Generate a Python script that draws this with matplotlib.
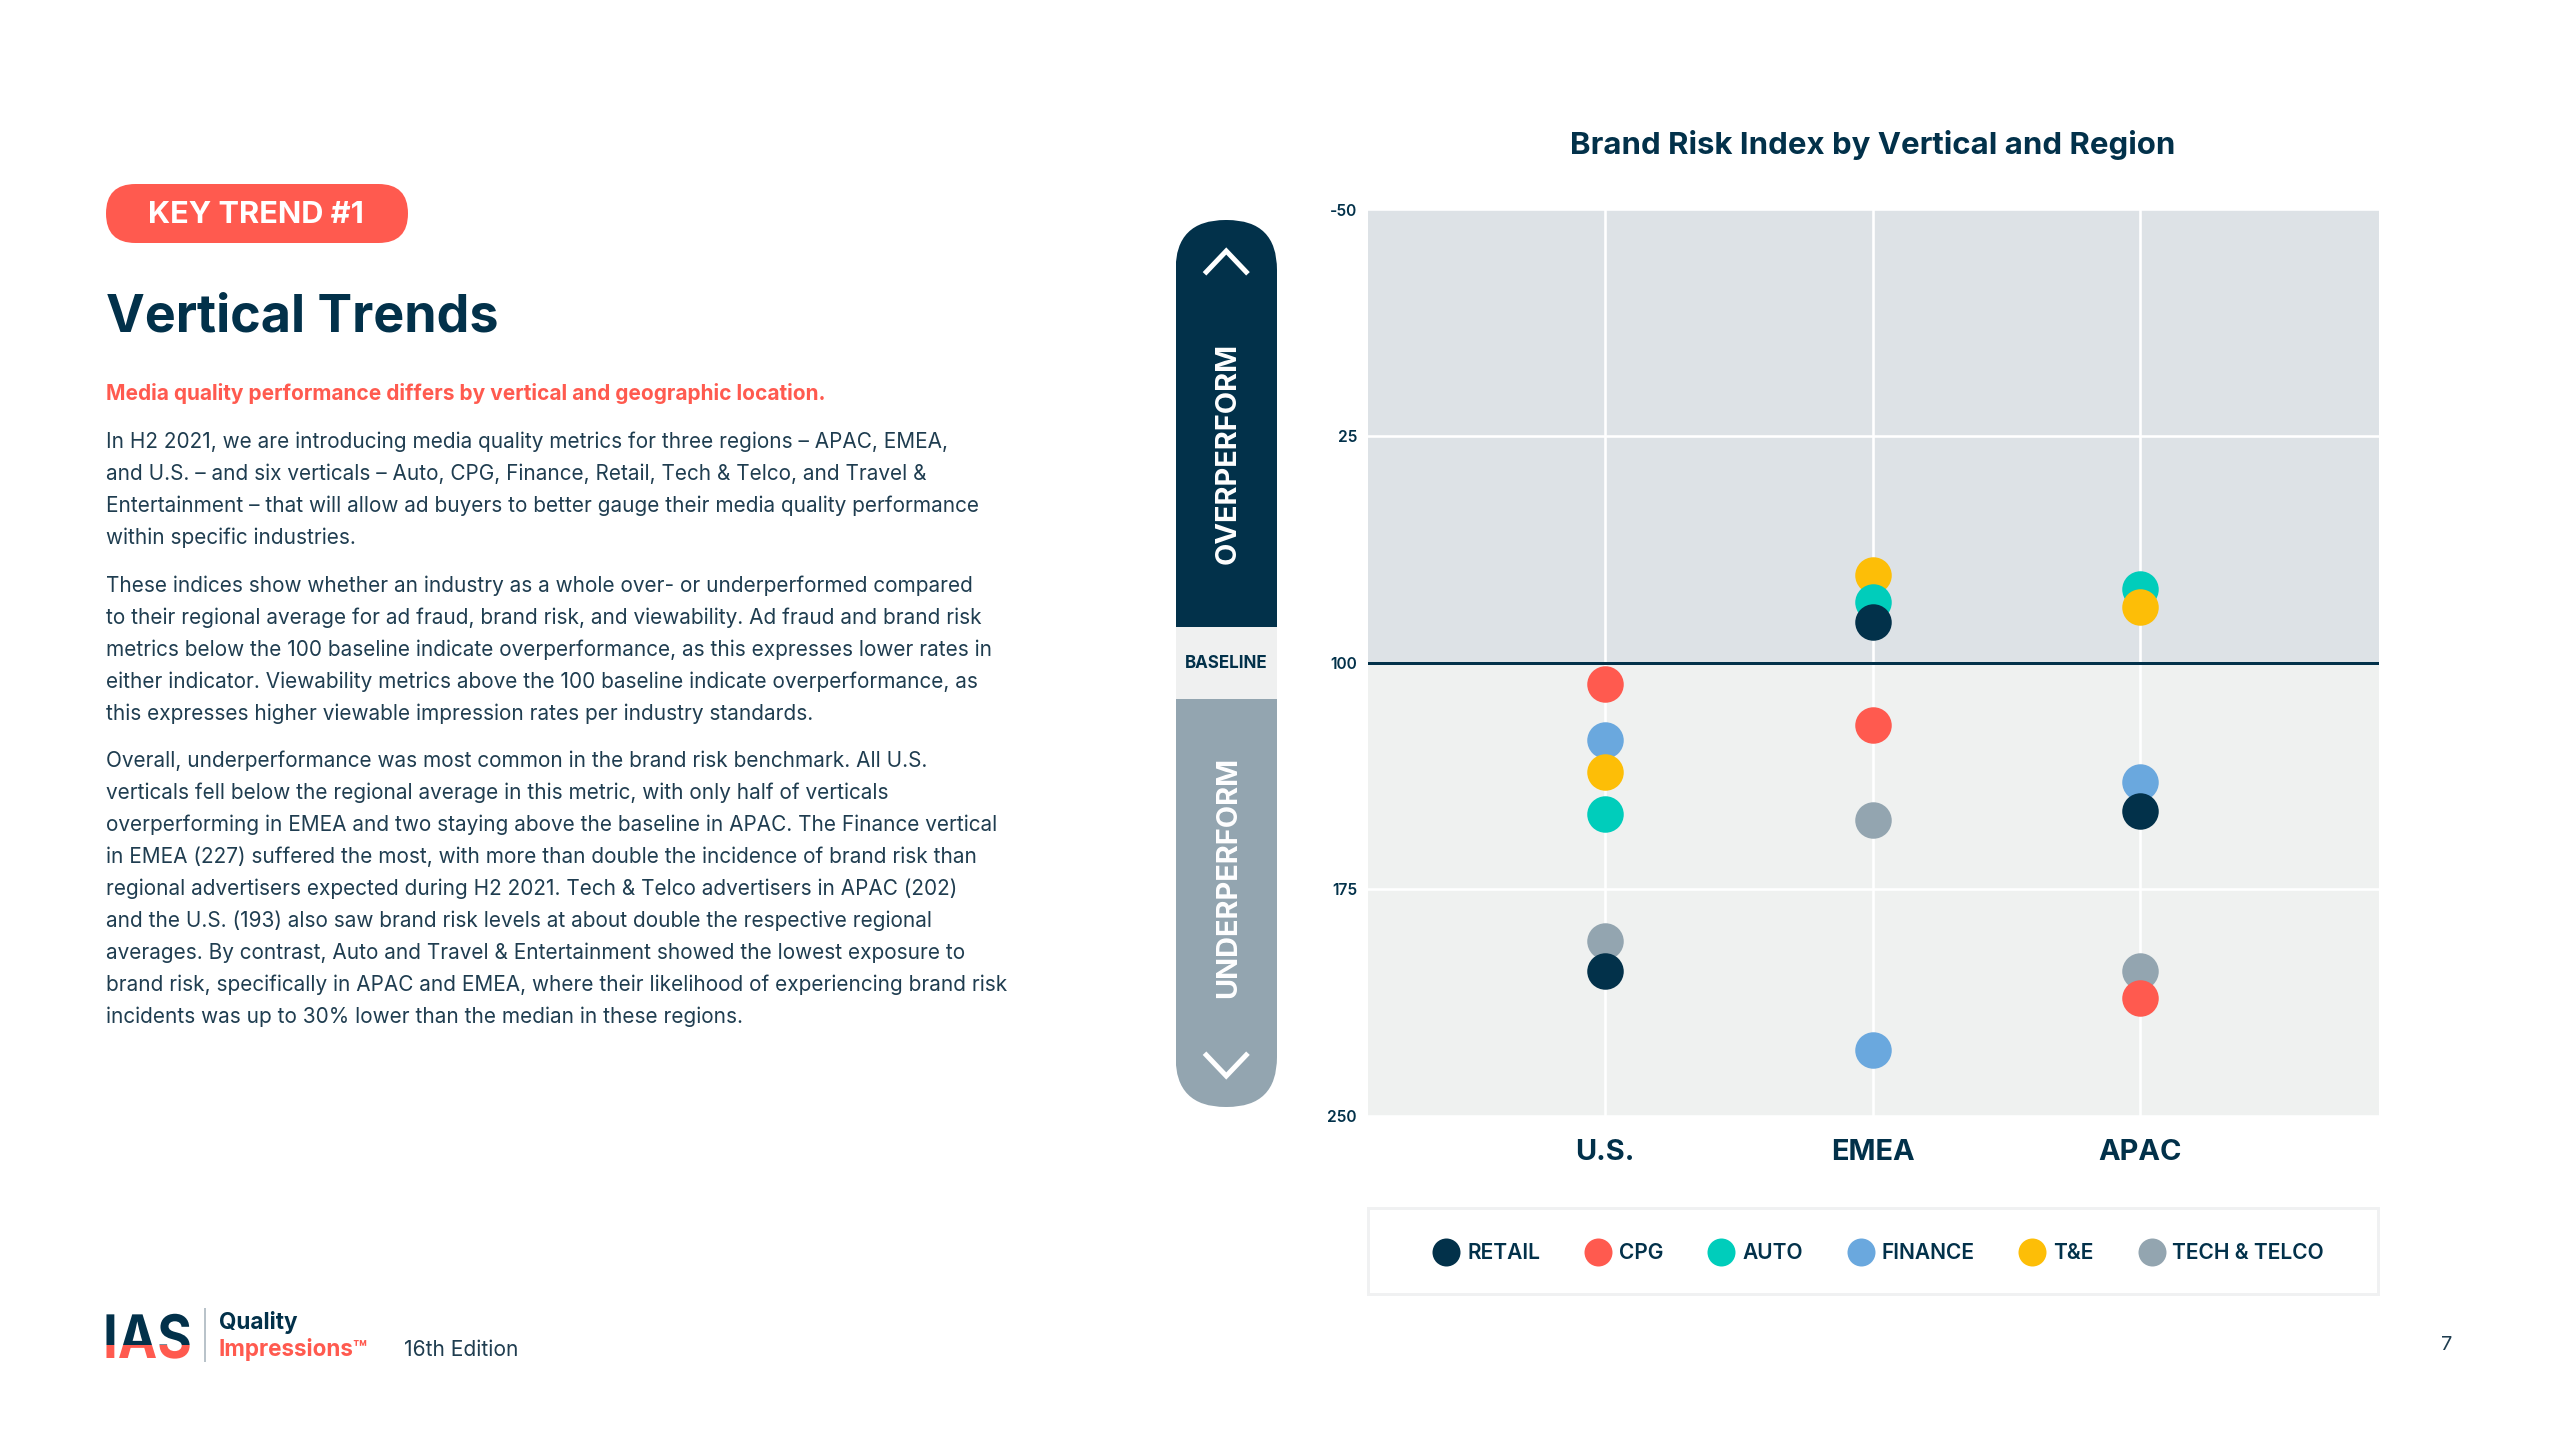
import matplotlib
matplotlib.use("Agg")
import matplotlib.pyplot as plt
from matplotlib.patches import FancyBboxPatch, Rectangle
from matplotlib.lines import Line2D
from matplotlib.patheffects import AbstractPathEffect
from matplotlib.transforms import Affine2D, Bbox

plt.rcParams['font.family'] = ['Inter', 'DejaVu Sans']

# ---------- data ----------
regions = ['U.S.', 'EMEA', 'APAC']
verticals = ['RETAIL', 'CPG', 'AUTO', 'FINANCE', 'T&E', 'TECH & TELCO']
retail = [202, 86.5, 149]
cpg = [107, 120.5, 211]
auto = [150, 80, 75.5]
finance = [125.5, 228, 139.5]
te = [136, 71, 81.5]
tech = [192, 152, 202]
series_values = [retail, cpg, auto, finance, te, tech]
y_ticks = [-50, 25, 100, 175, 250]
y_tick_labels = ['-50', '25', '100', '175', '250']
baseline = 100

colors = ['#02314A', '#FF5A4F', '#00CDBB', '#6AA8DE', '#FDBE07', '#93A5B0']
# paint order of the verticals (back to front) inside each region
paint_order = {
    'U.S.': ['AUTO', 'FINANCE', 'T&E', 'CPG', 'TECH & TELCO', 'RETAIL'],
    'EMEA': ['T&E', 'AUTO', 'RETAIL', 'CPG', 'TECH & TELCO', 'FINANCE'],
    'APAC': ['AUTO', 'T&E', 'FINANCE', 'RETAIL', 'TECH & TELCO', 'CPG'],
}

heading = 'Vertical Trends'
pill_text = 'KEY TREND #1'
lead = 'Media quality performance differs by vertical and geographic location.'
para1 = ['In H2 2021, we are introducing media quality metrics for three regions – APAC, EMEA,',
         'and U.S. – and six verticals – Auto, CPG, Finance, Retail, Tech & Telco, and Travel &',
         'Entertainment – that will allow ad buyers to better gauge their media quality performance',
         'within specific industries.']
para2 = ['These indices show whether an industry as a whole over- or underperformed compared',
         'to their regional average for ad fraud, brand risk, and viewability. Ad fraud and brand risk',
         'metrics below the 100 baseline indicate overperformance, as this expresses lower rates in',
         'either indicator. Viewability metrics above the 100 baseline indicate overperformance, as',
         'this expresses higher viewable impression rates per industry standards.']
para3 = ['Overall, underperformance was most common in the brand risk benchmark. All U.S.',
         'verticals fell below the regional average in this metric, with only half of verticals',
         'overperforming in EMEA and two staying above the baseline in APAC. The Finance vertical',
         'in EMEA (227) suffered the most, with more than double the incidence of brand risk than',
         'regional advertisers expected during H2 2021. Tech & Telco advertisers in APAC (202)',
         'and the U.S. (193) also saw brand risk levels at about double the respective regional',
         'averages. By contrast, Auto and Travel & Entertainment showed the lowest exposure to',
         'brand risk, specifically in APAC and EMEA, where their likelihood of experiencing brand risk',
         'incidents was up to 30% lower than the median in these regions.']

NAVY = '#02314A'
CORAL = '#FF5A4F'
BODY = '#1F3D50'
W, H = 2560, 1440
DPI = 200
fig = plt.figure(figsize=(W / DPI, H / DPI), dpi=DPI, facecolor='white')

def px(n):
    return n * 72 / DPI


class TwoToneCondensed(AbstractPathEffect):
    """Paint a text navy above a split line and coral below it, squeezed horizontally."""

    def __init__(self, split_px, x_px, squeeze):
        super().__init__()
        self.split = H - split_px  # display y
        self.x = x_px
        self.squeeze = squeeze

    def draw_path(self, renderer, gc, tpath, affine, rgbFace=None):
        squeezed = affine + Affine2D().translate(-self.x, 0).scale(self.squeeze, 1).translate(self.x, 0)
        for col, box in ((NAVY, Bbox([[0, self.split], [W, H]])), (CORAL, Bbox([[0, 0], [W, self.split]]))):
            g = renderer.new_gc()
            g.copy_properties(gc)
            g.set_clip_rectangle(box)
            renderer.draw_path(g, tpath, squeezed, matplotlib.colors.to_rgba(col))
            g.restore()


# ---------- page layer in pixel coordinates ----------
page = fig.add_axes([0, 0, 1, 1], zorder=0)
page.set_xlim(0, W)
page.set_ylim(H, 0)
page.axis('off')

# key trend pill
page.add_patch(FancyBboxPatch((106, 184), 302, 59, boxstyle='round,pad=0,rounding_size=29.5',
                              fc=CORAL, ec='none'))
page.text(256, 215, pill_text, color='white', fontsize=px(30.8), fontweight='bold', ha='center', va='center')
page.text(106, 332, heading, color=NAVY, fontsize=px(52), fontweight='bold', ha='left', va='baseline')
page.text(106, 400, lead, color=CORAL, fontsize=px(20.9), fontweight='bold', ha='left', va='baseline')

def block(lines, y0, step=32.0):
    for i, s in enumerate(lines):
        page.text(106, y0 + i * step, s, color=BODY, fontsize=px(20.8), ha='left', va='baseline')

block(para1, 448)
block(para2, 592)
block(para3, 767)

# side scale pill
x0, x1, top, mid1, mid2, bot = 1175.5, 1277, 220, 627, 699, 1107
dark = FancyBboxPatch((x0, top), x1 - x0, 600, boxstyle='round,pad=0,rounding_size=50', fc=NAVY, ec='none')
page.add_patch(dark)
dark.set_clip_path(Rectangle((x0, top), x1 - x0, mid1 - top, transform=page.transData))
page.add_patch(Rectangle((x0, mid1), x1 - x0, mid2 - mid1, fc='#EFF0F0', ec='none'))
grey = FancyBboxPatch((x0, mid2 - 200), x1 - x0, bot - mid2 + 200, boxstyle='round,pad=0,rounding_size=50',
                      fc='#93A5B0', ec='none')
page.add_patch(grey)
grey.set_clip_path(Rectangle((x0, mid2), x1 - x0, bot - mid2, transform=page.transData))
xc = (x0 + x1) / 2
page.add_line(Line2D([xc - 20, xc, xc + 20], [272, 251, 272], color='white', lw=px(5), solid_joinstyle='miter'))
page.add_line(Line2D([xc - 20, xc, xc + 20], [1055, 1076, 1055], color='white', lw=px(5), solid_joinstyle='miter'))
page.text(xc + 2, 453, 'OVERPERFORM', color='white', fontsize=px(29), fontweight='bold', rotation=90,
          ha='center', va='center')
page.text(xc + 2, 877, 'UNDERPERFORM', color='white', fontsize=px(29), fontweight='bold', rotation=90,
          ha='center', va='center')
page.text(xc, 664, 'BASELINE', color=NAVY, fontsize=px(17), fontweight='bold', ha='center', va='center')

# chart title
page.text(1873, 145, 'Brand Risk Index by Vertical and Region', color=NAVY, fontsize=px(31.2),
          fontweight='bold', ha='center', va='center')

# legend frame
page.add_patch(Rectangle((1368, 1208), 1010, 86, fc='white', ec='#F0F1F2', lw=px(3)))

# footer logo
logo = page.text(103, 1358, 'IAS', color=NAVY, fontsize=px(60), fontweight='bold', ha='left', va='baseline')
logo.set_path_effects([TwoToneCondensed(1345, 103, 0.88)])
page.add_line(Line2D([205, 205], [1309, 1361], color='#B9C3CA', lw=px(2)))
page.text(219, 1329, 'Quality', color=NAVY, fontsize=px(22.5), fontweight='bold', ha='left', va='baseline')
page.text(219, 1356, 'Impressions™', color=CORAL, fontsize=px(22.5), fontweight='bold', ha='left', va='baseline')
page.text(404, 1356, '16th Edition', color=BODY, fontsize=px(21), ha='left', va='baseline')
page.text(2447, 1345, '7', color=BODY, fontsize=px(20), ha='center', va='center')

# ---------- chart ----------
L, R, T, B = 1368, 2379, 209.5, 1116
ax = fig.add_axes([L / W, 1 - B / H, (R - L) / W, (B - T) / H], zorder=1)
ax.set_facecolor('none')
ax.set_ylim(y_ticks[-1], y_ticks[0])
ax.set_xlim(-0.886, 2.893)
ax.axhspan(y_ticks[0], baseline, color='#DDE2E6', lw=0, zorder=0)
ax.axhspan(baseline, y_ticks[-1], color='#EFF1F0', lw=0, zorder=0)
ax.set_xticks(range(len(regions)), regions)
ax.set_yticks(y_ticks, y_tick_labels)
ax.grid(True, color='white', lw=px(2.6), zorder=1)
ax.set_axisbelow(True)
ax.axhline(baseline, color=NAVY, lw=px(3), zorder=2)
for s in ax.spines.values():
    s.set_visible(False)
ax.tick_params(axis='both', length=0)
ax.tick_params(axis='x', labelsize=px(29), labelcolor=NAVY, pad=px(23))
ax.tick_params(axis='y', labelsize=px(15.5), labelcolor=NAVY, pad=px(11))
for lab in ax.get_xticklabels():
    lab.set_fontweight('bold')
for lab in ax.get_yticklabels():
    lab.set_fontweight('semibold')

marker_area = px(36.5) ** 2
z = 3
for i, region in enumerate(regions):
    for name in paint_order[region]:
        v = verticals.index(name)
        ax.scatter(i, series_values[v][i], s=marker_area, color=colors[v], lw=0, zorder=z, clip_on=False)
        z += 1

handles = [Line2D([], [], ls='none', marker='o', ms=px(28), mfc=c, mec='none') for c in colors]
leg = ax.legend(handles, verticals, ncols=6, frameon=False, loc='center',
                bbox_to_anchor=(1880 / W, 1 - 1253 / H), bbox_transform=fig.transFigure,
                prop={'size': px(21), 'weight': 'semibold'}, labelcolor=NAVY,
                handlelength=1.0, handletextpad=0.5, columnspacing=2.25, borderpad=0)

fig.savefig('out.png', dpi=DPI, facecolor='white')
